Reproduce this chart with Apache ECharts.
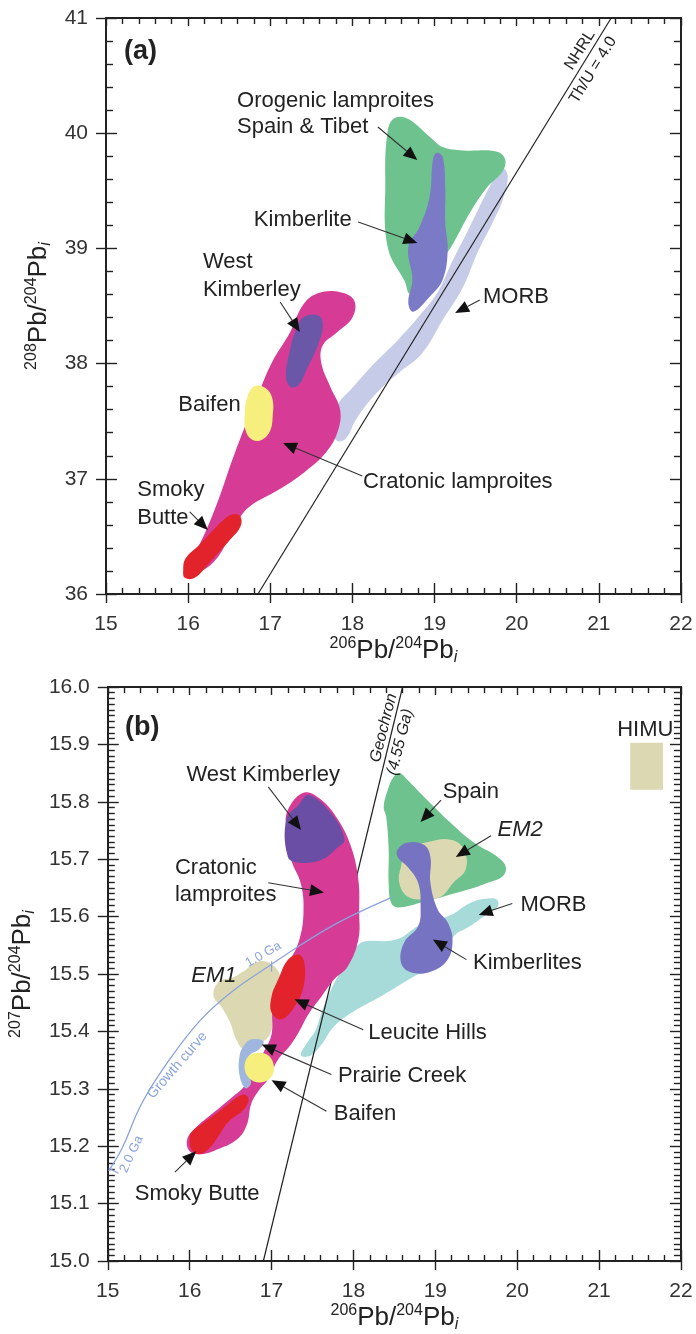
<!DOCTYPE html>
<html><head><meta charset="utf-8">
<script src="https://cdn.jsdelivr.net/npm/echarts@6/dist/echarts.min.js"></script>
<style>html,body{margin:0;padding:0;background:#fff}#c{width:696px;height:1334px}</style>
</head><body><div id="c"></div>
<script>
// ---------- tick labels ----------
const xTickLabels = ['15','16','17','18','19','20','21','22'];
const aYTickLabels = ['36','37','38','39','40','41'];
const bYTickLabels = ['15.0','15.1','15.2','15.3','15.4','15.5','15.6','15.7','15.8','15.9','16.0'];

// ---------- panel (a): 208Pb/204Pb vs 206Pb/204Pb ----------
const aCratonic = [[15.97,36.16],[16.08,36.34],[16.23,36.57],[16.39,36.86],[16.53,37.15],[16.70,37.47],[16.85,37.73],[17.02,38.01],[17.24,38.27],[17.40,38.51],[17.58,38.61],[17.85,38.62],[18.02,38.55],[18.00,38.40],[17.81,38.27],[17.64,38.16],[17.62,38.01],[17.73,37.80],[17.85,37.60],[17.82,37.41],[17.68,37.23],[17.42,37.06],[17.09,36.90],[16.75,36.76],[16.61,36.64],[16.49,36.47],[16.27,36.25]];
const aSmokyButte = [[15.94,36.21],[15.97,36.31],[16.14,36.43],[16.41,36.63],[16.53,36.69],[16.63,36.68],[16.64,36.59],[16.51,36.47],[16.27,36.28],[16.08,36.14],[15.96,36.14]];
const aBaifen = [[16.86,37.81],[16.97,37.77],[17.03,37.68],[17.03,37.55],[17.00,37.42],[16.90,37.34],[16.78,37.34],[16.70,37.42],[16.69,37.57],[16.72,37.71],[16.78,37.79]];
const aWestKimberley = [[17.40,38.40],[17.58,38.42],[17.64,38.34],[17.58,38.16],[17.45,37.96],[17.34,37.81],[17.24,37.80],[17.19,37.90],[17.24,38.12],[17.31,38.29]];
const aMORB = [[19.81,39.70],[19.89,39.63],[19.83,39.42],[19.71,39.23],[19.52,38.96],[19.35,38.67],[19.10,38.38],[18.85,38.09],[18.58,37.93],[18.37,37.80],[18.19,37.66],[18.04,37.51],[17.92,37.35],[17.81,37.33],[17.76,37.44],[17.82,37.64],[18.00,37.79],[18.25,37.99],[18.56,38.21],[18.82,38.42],[19.03,38.61],[19.21,38.88],[19.41,39.16],[19.68,39.55]];
const aOrogenic = [[18.49,40.12],[18.66,40.13],[18.94,39.97],[19.10,39.88],[19.35,39.85],[19.76,39.84],[19.86,39.77],[19.82,39.66],[19.64,39.53],[19.43,39.31],[19.27,39.10],[19.15,38.96],[18.94,38.80],[18.70,38.61],[18.64,38.71],[18.43,39.01],[18.40,39.59],[18.42,39.97]];
const aKimberlite = [[19.03,39.83],[19.10,39.79],[19.13,39.53],[19.13,39.22],[19.16,38.99],[19.10,38.73],[18.94,38.58],[18.74,38.45],[18.68,38.53],[18.73,38.73],[18.68,39.01],[18.82,39.19],[18.94,39.45],[18.98,39.77]];
const aNHRL = [[16.85,36.0],[21.15,41.0]];
const aArrows = [[18.31,40.054,18.79,39.767],[18.07,39.229,18.79,39.047],[17.12,38.535,17.36,38.274],[19.55,38.552,19.25,38.439],[18.12,37.024,17.155,37.311],[16.02,36.712,16.24,36.556]];
const aLabels = [['Orogenic lamproites',16.595,40.279],['Spain & Tibet',16.595,40.054],['Kimberlite',16.80,39.246],['West',16.18,38.882],['Kimberley',16.18,38.639],['MORB',19.59,38.578],['Baifen',15.88,37.641],['Cratonic lamproites',18.13,36.972],['Smoky',15.38,36.903],['Butte',15.38,36.660]];
const aTag = [['(a)',15.22,40.705]];
const aLineLabels = [['NHRL',20.77,40.722],['Th/U = 4.0',20.93,40.549]];

// ---------- panel (b): 207Pb/204Pb vs 206Pb/204Pb ----------
const bCratonic = [[17.40,15.816],[17.61,15.803],[17.81,15.769],[17.97,15.722],[18.06,15.664],[18.07,15.607],[18.06,15.560],[17.93,15.513],[17.76,15.490],[17.61,15.461],[17.45,15.430],[17.33,15.398],[17.22,15.374],[17.08,15.351],[16.96,15.317],[16.84,15.296],[16.75,15.273],[16.70,15.238],[16.58,15.212],[16.35,15.195],[16.14,15.186],[16.00,15.191],[15.97,15.212],[16.08,15.233],[16.27,15.256],[16.49,15.282],[16.66,15.303],[16.75,15.325],[16.90,15.363],[17.00,15.395],[17.01,15.438],[17.06,15.482],[17.22,15.522],[17.34,15.560],[17.39,15.607],[17.36,15.656],[17.24,15.699],[17.18,15.751],[17.20,15.786]];
const bWestKimberley = [[17.46,15.812],[17.76,15.774],[17.89,15.734],[17.82,15.722],[17.61,15.699],[17.33,15.694],[17.20,15.704],[17.18,15.769],[17.33,15.795]];
const bLeuciteHills = [[17.33,15.534],[17.40,15.520],[17.39,15.478],[17.28,15.443],[17.12,15.421],[17.00,15.433],[17.00,15.461],[17.08,15.490],[17.20,15.525]];
const bSmokyButte = [[16.02,15.224],[16.18,15.242],[16.39,15.264],[16.60,15.287],[16.67,15.290],[16.72,15.282],[16.66,15.264],[16.47,15.242],[16.35,15.217],[16.23,15.195],[16.11,15.186],[16.02,15.195],[16.00,15.212]];
const bBaifen = [[16.85,15.363],[16.97,15.357],[17.03,15.337],[16.98,15.318],[16.85,15.311],[16.73,15.318],[16.67,15.337],[16.72,15.357]];
const bPrairieCreek = [[16.75,15.386],[16.90,15.383],[16.85,15.369],[16.73,15.358],[16.69,15.337],[16.75,15.310],[16.68,15.301],[16.61,15.323],[16.61,15.358],[16.67,15.377]];
const bEM1 = [[16.29,15.463],[16.36,15.487],[16.53,15.494],[16.69,15.508],[16.85,15.522],[17.00,15.517],[17.10,15.499],[17.10,15.473],[17.00,15.447],[17.02,15.421],[16.98,15.395],[16.90,15.383],[16.78,15.377],[16.66,15.369],[16.57,15.386],[16.49,15.417],[16.39,15.442]];
const bSpain = [[18.56,15.850],[18.66,15.838],[18.86,15.809],[19.19,15.763],[19.47,15.729],[19.76,15.704],[19.86,15.687],[19.82,15.670],[19.64,15.659],[19.40,15.647],[19.10,15.635],[18.82,15.624],[18.54,15.616],[18.46,15.624],[18.43,15.659],[18.43,15.717],[18.40,15.774],[18.37,15.791],[18.42,15.821],[18.49,15.843]];
const bEM2 = [[18.58,15.687],[18.66,15.717],[18.91,15.730],[19.19,15.734],[19.35,15.717],[19.37,15.682],[19.22,15.659],[19.07,15.635],[18.86,15.630],[18.66,15.635],[18.56,15.659]];
const bKimberlites = [[18.54,15.717],[18.66,15.729],[18.86,15.725],[18.94,15.704],[18.94,15.659],[19.03,15.612],[19.15,15.590],[19.21,15.560],[19.15,15.525],[18.94,15.504],[18.70,15.503],[18.58,15.520],[18.62,15.555],[18.79,15.583],[18.82,15.617],[18.79,15.659],[18.66,15.687],[18.54,15.704]];
const bMORB = [[17.36,15.358],[17.48,15.358],[17.61,15.377],[17.73,15.403],[17.89,15.424],[18.09,15.442],[18.36,15.463],[18.66,15.489],[18.92,15.511],[19.13,15.534],[19.22,15.565],[19.43,15.584],[19.61,15.602],[19.76,15.617],[19.75,15.630],[19.61,15.631],[19.43,15.624],[19.19,15.603],[18.82,15.586],[18.52,15.560],[18.15,15.557],[18.06,15.551],[17.93,15.529],[17.82,15.499],[17.70,15.464],[17.61,15.433],[17.54,15.403],[17.42,15.377]];
const bHIMU = [[21.38,15.903],[21.78,15.903],[21.78,15.821],[21.38,15.821]];
const bGeochron = [[16.90,15.0],[18.60,16.0]];
const bGrowthCurve = [[15.01,15.157],[15.17,15.195],[15.41,15.273],[15.74,15.348],[16.14,15.421],[16.55,15.473],[16.96,15.513],[17.36,15.551],[17.73,15.583],[18.09,15.609],[18.46,15.633]];
const bGrowthTicks = [[15.01,15.162,15.13,15.153],[17.00,15.522,17.00,15.504]];
const bArrows = [[16.96,15.826,17.36,15.751],[16.96,15.659,17.64,15.642],[19.07,15.803,18.82,15.765],[19.68,15.741,19.25,15.704],[19.94,15.623,19.53,15.603],[19.38,15.525,18.97,15.560],[18.12,15.403,17.28,15.456],[17.73,15.325,16.88,15.377],[17.67,15.261,17.00,15.315],[15.82,15.155,16.08,15.191]];
const bLabels = [['West Kimberley',15.96,15.847],['Cratonic',15.82,15.685],['lamproites',15.82,15.638],['Spain',19.09,15.817],['MORB',20.04,15.621],['Kimberlites',19.46,15.520],['Leucite Hills',18.18,15.398],['Prairie Creek',17.81,15.322],['Baifen',17.76,15.256],['Smoky Butte',15.33,15.117],['HIMU',21.22,15.925]];
const bItalicLabels = [['EM2',19.76,15.751],['EM1',16.02,15.496]];
const bTag = [['(b)',15.21,15.930]];
const bGeochronLabels = [['Geochron',18.37,15.929],['(4.55 Ga)',18.57,15.904]];
const bGrowthLabels = [['Growth curve',15.85,15.341],['2.0 Ga',15.29,15.186],['1.0 Ga',16.90,15.534]];

// ---------- build ----------
const FONT = "'Liberation Sans', Arial, Helvetica, sans-serif";
const INK = '#222';
const chart = echarts.init(document.getElementById('c'), null, {renderer:'canvas'});

const nameRich = {
  main:{fontSize:26, fontFamily:FONT, color:INK, lineHeight:30},
  sup:{fontSize:16, fontFamily:FONT, color:INK, lineHeight:16, verticalAlign:'top'},
  sub:{fontSize:16, fontFamily:FONT, color:INK, fontStyle:'italic', lineHeight:16, verticalAlign:'bottom'}
};
const pbName = iso => `{sup|${iso}}{main|Pb/}{sup|204}{main|Pb}{sub|i}`;
const tickStyle = {color:INK, width:1.4};
const lineStyle = {color:INK, width:2};

function xAxes(gi) {
  return [
    {type:'value', gridIndex:gi, min:15, max:22, interval:1, position:'bottom',
     axisLine:{show:true, onZero:false, lineStyle},
     axisTick:{show:true, inside:true, length:11, lineStyle:tickStyle},
     minorTick:{show:true, splitNumber:5, length:6, lineStyle:tickStyle},
     splitLine:{show:false}, minorSplitLine:{show:false},
     axisLabel:{fontFamily:FONT, fontSize:21, color:'#333', margin:20, formatter:v => xTickLabels[Math.round(v-15)]},
     name: pbName(206), nameLocation:'middle', nameGap:42, nameTextStyle:{rich:nameRich}},
    {type:'value', gridIndex:gi, min:15, max:22, interval:1, position:'top',
     axisLine:{show:true, onZero:false, lineStyle},
     axisTick:{show:true, inside:true, length:8, lineStyle:tickStyle},
     minorTick:{show:true, splitNumber:5, length:6, lineStyle:tickStyle},
     splitLine:{show:false}, axisLabel:{show:false}},
    {type:'value', gridIndex:gi, min:15, max:22, interval:1, position:'bottom',
     axisLine:{show:false, onZero:false},
     axisTick:{show:true, inside:false, length:9, lineStyle:tickStyle},
     splitLine:{show:false}, axisLabel:{show:false}}
  ];
}
function yAxes(gi, min, max, interval, minorSplit, labels, iso) {
  return [
    {type:'value', gridIndex:gi, min, max, interval, position:'left',
     axisLine:{show:true, onZero:false, lineStyle},
     axisTick:{show:true, inside:true, length:11, lineStyle:tickStyle},
     minorTick:{show:true, splitNumber:minorSplit, length:7, lineStyle:tickStyle},
     splitLine:{show:false}, minorSplitLine:{show:false},
     axisLabel:{fontFamily:FONT, fontSize:21, color:'#333', margin:18, formatter:v => labels[Math.round((v-min)/interval)]},
     name: pbName(iso), nameLocation:'middle', nameGap:50, nameRotate:90, nameTextStyle:{rich:nameRich}},
    {type:'value', gridIndex:gi, min, max, interval, position:'right',
     axisLine:{show:true, onZero:false, lineStyle},
     axisTick:{show:true, inside:true, length:11, lineStyle:tickStyle},
     minorTick:{show:true, splitNumber:minorSplit, length:7, lineStyle:tickStyle},
     splitLine:{show:false}, axisLabel:{show:false}},
    {type:'value', gridIndex:gi, min, max, interval, position:'left',
     axisLine:{show:false, onZero:false},
     axisTick:{show:true, inside:false, length:10, lineStyle:tickStyle},
     splitLine:{show:false}, axisLabel:{show:false}}
  ];
}

let zc = 2;
function poly(pts, color, gi, smooth) {
  return {type:'custom', xAxisIndex:gi*3, yAxisIndex:gi*3, z:zc++, silent:true, clip:true, data:pts,
    renderItem(params, api) {
      if (params.dataIndex !== 0) return null;
      return {type:'polygon', shape:{points:pts.map(p => api.coord(p)), smooth:(smooth === undefined ? 0.4 : smooth)}, style:{fill:color}};
    }};
}
function line(pts, color, width, gi, smooth) {
  return {type:'line', xAxisIndex:gi*3, yAxisIndex:gi*3, z:zc++, silent:true, data:pts, symbol:'none',
    smooth: smooth || false, lineStyle:{color, width}, animation:false};
}
function arrows(list, gi) {
  return {type:'custom', xAxisIndex:gi*3, yAxisIndex:gi*3, z:40, silent:true, clip:false, data:list,
    renderItem(params, api) {
      const a = api.coord([api.value(0), api.value(1)]);
      const b = api.coord([api.value(2), api.value(3)]);
      const dx = b[0]-a[0], dy = b[1]-a[1], L = Math.hypot(dx, dy), ux = dx/L, uy = dy/L;
      const hl = 14, hw = 6;
      const bx = b[0]-ux*hl, by = b[1]-uy*hl;
      return {type:'group', children:[
        {type:'line', shape:{x1:a[0], y1:a[1], x2:bx, y2:by}, style:{stroke:'#333', lineWidth:1.1}},
        {type:'polygon', shape:{points:[[b[0],b[1]],[bx-uy*hw, by+ux*hw],[bx+uy*hw, by-ux*hw]]}, style:{fill:'#111'}}
      ]};
    }};
}
function segs(list, color, gi) {
  return {type:'custom', xAxisIndex:gi*3, yAxisIndex:gi*3, z:zc++, silent:true, clip:true, data:list,
    renderItem(params, api) {
      const a = api.coord([api.value(0), api.value(1)]);
      const b = api.coord([api.value(2), api.value(3)]);
      return {type:'line', shape:{x1:a[0], y1:a[1], x2:b[0], y2:b[1]}, style:{stroke:color, lineWidth:1.2}};
    }};
}
function texts(items, gi, font, color, rotDeg, align) {
  return {type:'custom', xAxisIndex:gi*3, yAxisIndex:gi*3, z:50, silent:true, clip:false,
    data: items.map(d => ({name:d[0], value:[d[1], d[2]]})),
    renderItem(params, api) {
      const p = api.coord([api.value(0), api.value(1)]);
      return {type:'text', x:p[0], y:p[1], rotation:(rotDeg||0)*Math.PI/180,
        style:{text:items[params.dataIndex][0], fill:color||INK, font, align:align||'left', verticalAlign:'middle'}};
    }};
}

const C = {
  magenta:'#d63c96', red:'#e2232b', yellow:'#f6ef7d', purpleDark:'#6b57a8', purple:'#7b7ac6',
  purpleDarkB:'#6a4ea5', purpleB:'#7673c2', green:'#6ec28d', morbA:'#c6cce8', morbB:'#a7dbd9',
  beige:'#dbd8b2', prairie:'#9fb7de', growth:'#8aa3dc'
};
const F22 = `22px ${FONT}`;

const series = [
  // panel a
  poly(aMORB, C.morbA, 0),
  line(aNHRL, INK, 1.2, 0),
  poly(aCratonic, C.magenta, 0),
  poly(aBaifen, C.yellow, 0),
  poly(aSmokyButte, C.red, 0),
  poly(aWestKimberley, C.purpleDark, 0),
  poly(aOrogenic, C.green, 0),
  poly(aKimberlite, C.purple, 0),
  arrows(aArrows, 0),
  texts(aLabels, 0, F22),
  texts(aTag, 0, `bold 27px ${FONT}`),
  texts(aLineLabels, 0, `16px ${FONT}`, INK, 58, 'center'),
  // panel b
  poly(bMORB, C.morbB, 1),
  line(bGeochron, INK, 1.2, 1),
  poly(bEM1, C.beige, 1),
  poly(bCratonic, C.magenta, 1),
  poly(bWestKimberley, C.purpleDarkB, 1),
  poly(bLeuciteHills, C.red, 1),
  poly(bSmokyButte, C.red, 1),
  poly(bPrairieCreek, C.prairie, 1),
  poly(bBaifen, C.yellow, 1),
  poly(bSpain, C.green, 1),
  poly(bEM2, C.beige, 1),
  poly(bKimberlites, C.purpleB, 1),
  poly(bHIMU, C.beige, 1, 0),
  line(bGrowthCurve, C.growth, 1.3, 1, 0.4),
  segs(bGrowthTicks, C.growth, 1),
  arrows(bArrows, 1),
  texts(bLabels, 1, F22),
  texts(bItalicLabels, 1, `italic 22px ${FONT}`),
  texts(bTag, 1, `bold 27px ${FONT}`),
  texts(bGeochronLabels, 1, `italic 16px ${FONT}`, INK, 76, 'center'),
  texts([bGrowthLabels[0]], 1, `14px ${FONT}`, C.growth, 49, 'center'),
  texts([bGrowthLabels[1]], 1, `13px ${FONT}`, C.growth, 65, 'center'),
  texts([bGrowthLabels[2]], 1, `13px ${FONT}`, C.growth, 30, 'center')
];

chart.setOption({
  animation:false,
  backgroundColor:'#fff',
  grid:[{left:106, top:18, width:575, height:576}, {left:106, top:687, width:575, height:575}],
  xAxis:[...xAxes(0), ...xAxes(1)],
  yAxis:[...yAxes(0, 36, 41, 1, 5, aYTickLabels, 208), ...yAxes(1, 15, 16, 0.1, 10, bYTickLabels, 207)],
  series
});
</script></body></html>
